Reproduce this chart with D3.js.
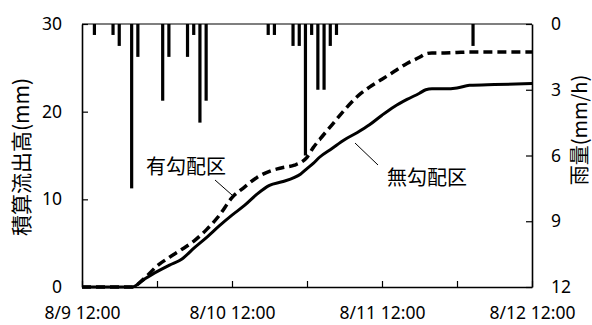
<!DOCTYPE html>
<html>
<head>
<meta charset="utf-8">
<script src="https://cdn.jsdelivr.net/npm/d3@7"></script>
<style>
    body { margin: 0; background: #fff; }
    .tick text { font-family: "Noto Sans", sans-serif; font-size: 17.5px; fill: #000; }
    .jp { font-family: "Noto Sans CJK JP", sans-serif; fill: #000; }
</style>
</head>
<body>
<div id="vis"></div>
<script>
const frame_width = 592;
const frame_height = 325;
const margins = {left: 82, right: 60, top: 24, bottom: 38};

// hours since 8/9 12:00
const flow_hours = [0, 8, 10, 12, 14, 16, 18, 20, 22, 24, 26, 28, 30, 32, 34, 35, 36, 37, 38,
    40, 42, 44, 46, 48, 50, 52, 54, 55, 56, 58, 60, 62, 66, 72];
// 有勾配区 cumulative runoff (mm)
const slope_flow = [0, 0, 1.0, 2.4, 3.4, 4.3, 5.3, 6.6, 8.2, 10.2, 11.4, 12.5, 13.2, 13.6, 13.9, 14.2, 14.8, 15.9, 16.8,
    18.5, 20.2, 21.7, 22.8, 23.7, 24.6, 25.5, 26.2, 26.6, 26.7, 26.7, 26.75, 26.8, 26.8, 26.8];
// 無勾配区 cumulative runoff (mm)
const flat_flow = [0, 0, 0.9, 1.75, 2.5, 3.2, 4.5, 5.7, 7.0, 8.2, 9.3, 10.6, 11.6, 12.0, 12.5, 12.9, 13.5, 14.1, 14.8,
    15.8, 16.8, 17.6, 18.5, 19.6, 20.6, 21.4, 22.1, 22.5, 22.6, 22.6, 22.7, 23.0, 23.1, 23.2];

// hourly rainfall (mm/h)
const rain_hours = [2, 5, 6, 8, 9, 13, 14, 17, 18, 19, 20, 30, 31, 34, 35, 36, 37, 38, 39, 40, 41, 63];
const rain_values = [0.5, 0.5, 1.0, 7.5, 1.5, 3.5, 1.5, 1.5, 0.5, 4.5, 3.5, 0.5, 0.5, 1.0, 1.0, 6.0, 0.5, 3.0, 3.0, 1.0, 0.5, 1.0];

const x_ticks = [0, 12, 24, 36, 48, 60, 72];
const x_labels = ["8/9 12:00", "8/10 12:00", "8/11 12:00", "8/12 12:00"];
const y_ticks = [0, 10, 20, 30];
const rain_ticks = [0, 3, 6, 9, 12];

const x0 = margins.left;
const x1 = frame_width - margins.right;
const y0 = frame_height - margins.bottom;
const y1 = margins.top;

const svg = d3.select("#vis")
    .append("svg")
        .attr("width", frame_width)
        .attr("height", frame_height);

const x_scale = d3.scaleLinear().domain([0, 72]).range([x0, x1]);
// rain bars sit on their own category-like axis
const rain_x = d3.scaleLinear().domain([0, 72.5]).range([x0, x1]);
const y_scale = d3.scaleLinear().domain([0, 30]).range([y0, y1]);
const rain_y = d3.scaleLinear().domain([0, 12]).range([y1, y0]);

// rain bars hanging from the top
svg.selectAll(".bar")
    .data(rain_hours.map((h, i) => ({h: h, v: rain_values[i]})))
    .enter()
    .append("rect")
        .attr("class", "bar")
        .attr("x", (d) => rain_x(d.h) - 1.6)
        .attr("y", rain_y(0))
        .attr("width", 3.2)
        .attr("height", (d) => rain_y(d.v) - rain_y(0))
        .attr("fill", "#000");

// top border
svg.append("line")
    .attr("x1", x0).attr("x2", x1)
    .attr("y1", y1).attr("y2", y1)
    .attr("stroke", "#000")
    .attr("stroke-width", 1.2);

// axes
const x_axis = svg.append("g")
    .attr("transform", "translate(0," + y0 + ")")
    .call(d3.axisBottom(x_scale)
        .tickValues(x_ticks)
        .tickSize(-6)
        .tickSizeOuter(0)
        .tickPadding(20)
        .tickFormat((d, i) => i % 2 == 0 ? x_labels[i / 2] : ""));

const y_axis = svg.append("g")
    .attr("transform", "translate(" + x0 + ",0)")
    .call(d3.axisLeft(y_scale)
        .tickValues(y_ticks)
        .tickSize(-6)
        .tickSizeOuter(0)
        .tickPadding(20)
        .tickFormat(d3.format("d")));

const r_axis = svg.append("g")
    .attr("transform", "translate(" + x1 + ",0)")
    .call(d3.axisRight(rain_y)
        .tickValues(rain_ticks)
        .tickSize(-6)
        .tickSizeOuter(0)
        .tickPadding(19)
        .tickFormat(d3.format("d")));

[x_axis, y_axis, r_axis].forEach((a) => {
    a.select(".domain").attr("stroke", "#000").attr("stroke-width", 1.6);
    a.selectAll(".tick line").attr("stroke", "#000").attr("stroke-width", 1.2);
});

// runoff lines
const line = d3.line()
    .curve(d3.curveMonotoneX)
    .x((d) => x_scale(d.t))
    .y((d) => y_scale(d.v));

svg.append("path")
    .datum(flow_hours.map((t, i) => ({t: t, v: slope_flow[i]})))
    .attr("d", line)
    .attr("fill", "none")
    .attr("stroke", "#000")
    .attr("stroke-width", 3.5)
    .attr("stroke-dasharray", "9,5");

svg.append("path")
    .datum(flow_hours.map((t, i) => ({t: t, v: flat_flow[i]})))
    .attr("d", line)
    .attr("fill", "none")
    .attr("stroke", "#000")
    .attr("stroke-width", 3);

// labels for the two lines
svg.append("text")
    .attr("class", "jp")
    .attr("x", 146).attr("y", 174)
    .attr("font-size", "20px")
    .text("有勾配区");
svg.append("line")
    .attr("x1", 215).attr("y1", 180)
    .attr("x2", 232).attr("y2", 195)
    .attr("stroke", "#000").attr("stroke-width", 1);

svg.append("text")
    .attr("class", "jp")
    .attr("x", 387).attr("y", 185)
    .attr("font-size", "20px")
    .text("無勾配区");
svg.append("line")
    .attr("x1", 355).attr("y1", 143)
    .attr("x2", 378).attr("y2", 165)
    .attr("stroke", "#000").attr("stroke-width", 1);

// axis titles
svg.append("text")
    .attr("class", "jp")
    .attr("transform", "translate(22,157) rotate(-90)")
    .attr("text-anchor", "middle")
    .attr("dy", "0.35em")
    .attr("font-size", "21px")
    .text("積算流出高(mm)");

svg.append("text")
    .attr("class", "jp")
    .attr("transform", "translate(580,130) rotate(-90)")
    .attr("text-anchor", "middle")
    .attr("dy", "0.35em")
    .attr("font-size", "20px")
    .text("雨量(mm/h)");
</script>
</body>
</html>
